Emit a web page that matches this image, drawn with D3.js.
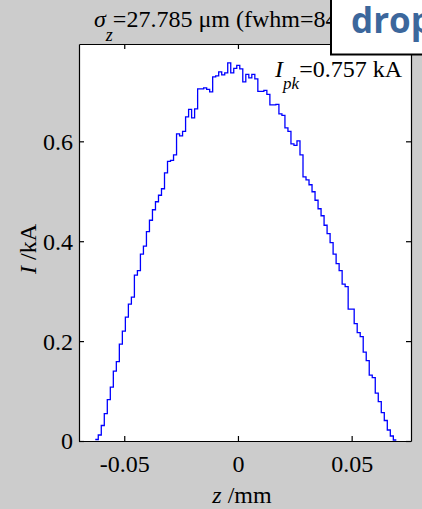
<!DOCTYPE html>
<html>
<head>
<meta charset="utf-8">
<script src="https://cdn.jsdelivr.net/npm/d3@7"></script>
<style>
  html, body { margin: 0; padding: 0; background: #cccccc; }
  svg { display: block; }
  text { font-family: "Liberation Serif", "Times New Roman", serif; fill: #000; }
</style>
</head>
<body>
<svg id="chart" width="422" height="509"></svg>
<script>
// Longitudinal current profile I(z), histogram of 100 equal bins
const zFirstEdge = -0.06275;   // mm, left edge of first bin
const zBinWidth = 0.001324;    // mm
const currentKA = [
  0.003, 0.012, 0.031, 0.055, 0.083, 0.108, 0.140, 0.159, 0.194, 0.220,
  0.248, 0.274, 0.288, 0.332, 0.341, 0.374, 0.390, 0.419, 0.442, 0.463,
  0.479, 0.492, 0.505, 0.537, 0.560, 0.562, 0.573, 0.615, 0.611, 0.620,
  0.649, 0.664, 0.647, 0.665, 0.705, 0.705, 0.707, 0.704, 0.699, 0.729,
  0.731, 0.739, 0.733, 0.737, 0.757, 0.737, 0.746, 0.752, 0.745, 0.719,
  0.734, 0.727, 0.734, 0.725, 0.700, 0.700, 0.702, 0.694, 0.673, 0.673,
  0.674, 0.655, 0.652, 0.627, 0.620, 0.595, 0.592, 0.601, 0.573, 0.529,
  0.523, 0.513, 0.499, 0.482, 0.465, 0.451, 0.432, 0.415, 0.397, 0.374,
  0.355, 0.341, 0.314, 0.309, 0.264, 0.264, 0.235, 0.217, 0.209, 0.178,
  0.161, 0.132, 0.127, 0.096, 0.079, 0.057, 0.041, 0.022, 0.010, 0.002
];
const sigmaZ = 27.785;  // um, rms bunch length

const xTickValues = [-0.05, 0, 0.05];
const xTickLabels = ["-0.05", "0", "0.05"];
const yTickValues = [0, 0.2, 0.4, 0.6];
const yTickLabels = ["0", "0.2", "0.4", "0.6"];
const xLimits = [-0.0699, 0.0761];

const peak = d3.max(currentKA);
const yLimits = [0, 1.05 * peak];

// layout
const plot = { left: 79, right: 411, top: 44, bottom: 441 };
const fontSize = 24;
const svg = d3.select("#chart");

const x = d3.scaleLinear().domain(xLimits).range([plot.left, plot.right]);
const y = d3.scaleLinear().domain(yLimits).range([plot.bottom, plot.top]);

// axes background
svg.append("rect")
  .attr("x", plot.left).attr("y", plot.top)
  .attr("width", plot.right - plot.left).attr("height", plot.bottom - plot.top)
  .attr("fill", "#fff");

// stairs line
const steps = currentKA.map((v, i) => [zFirstEdge + i * zBinWidth, v]);
steps.push([zFirstEdge + currentKA.length * zBinWidth, currentKA[currentKA.length - 1]]);
svg.append("path")
  .datum(steps)
  .attr("fill", "none")
  .attr("stroke", "#0000ff")
  .attr("stroke-width", 1.3)
  .attr("d", d3.line().x(d => x(d[0])).y(d => y(d[1])).curve(d3.curveStepAfter));

// axes (box with inward ticks)
function styleAxis(g) {
  g.selectAll("path.domain").attr("stroke", "#000").attr("stroke-width", 1.2);
  g.selectAll(".tick line").attr("stroke", "#000").attr("stroke-width", 1.2);
  g.attr("font-family", null).attr("font-size", null);
}

const gx = svg.append("g")
  .attr("transform", `translate(0,${plot.bottom})`)
  .call(d3.axisBottom(x).tickValues(xTickValues)
    .tickFormat((d, i) => xTickLabels[i]).tickSizeInner(-5).tickSizeOuter(0));
styleAxis(gx);
gx.selectAll(".tick text")
  .attr("y", 30.5).attr("dy", null)
  .style("font-size", fontSize + "px");

const gy = svg.append("g")
  .attr("transform", `translate(${plot.left},0)`)
  .call(d3.axisLeft(y).tickValues(yTickValues)
    .tickFormat((d, i) => yTickLabels[i]).tickSizeInner(-5).tickSizeOuter(0));
styleAxis(gy);
gy.selectAll(".tick text")
  .attr("x", -6).attr("dy", "0.33em")
  .style("font-size", fontSize + "px");

const gt = svg.append("g")
  .attr("transform", `translate(0,${plot.top})`)
  .call(d3.axisTop(x).tickValues(xTickValues).tickFormat("").tickSizeInner(-5).tickSizeOuter(0));
styleAxis(gt);

const gr = svg.append("g")
  .attr("transform", `translate(${plot.right},0)`)
  .call(d3.axisRight(y).tickValues(yTickValues).tickFormat("").tickSizeInner(-5).tickSizeOuter(0));
styleAxis(gr);

// axis labels
const xl = svg.append("text")
  .attr("x", 242).attr("y", 503)
  .attr("text-anchor", "middle")
  .style("font-size", fontSize + "px");
xl.append("tspan").style("font-style", "italic").text("z");
xl.append("tspan").text(" /mm");

const yl = svg.append("text")
  .attr("transform", "translate(36,249) rotate(-90)")
  .attr("text-anchor", "middle")
  .style("font-size", fontSize + "px");
yl.append("tspan").style("font-style", "italic").text("I");
yl.append("tspan").text(" /kA");

// full width at half maximum of the profile
function fwhm(vals) {
  const half = d3.max(vals) / 2;
  const centers = vals.map((v, i) => zFirstEdge + (i + 0.5) * zBinWidth);
  const i0 = vals.findIndex(v => v >= half);
  const i1 = vals.length - 1 - [...vals].reverse().findIndex(v => v >= half);
  const zl = centers[i0 - 1] + (half - vals[i0 - 1]) / (vals[i0] - vals[i0 - 1]) * zBinWidth;
  const zr = centers[i1] + (vals[i1] - half) / (vals[i1] - vals[i1 + 1]) * zBinWidth;
  return (zr - zl) * 1000;
}

// title
const title = svg.append("text")
  .attr("x", 94).attr("y", 27)
  .style("font-size", fontSize + "px");
title.append("tspan").style("font-style", "italic").text("σ");
title.append("tspan").attr("dy", 14).style("font-size", "18px").style("font-style", "italic").text("z");
title.append("tspan").attr("dy", -14)
  .text(`=${sigmaZ.toFixed(3)} μm (fwhm=${fwhm(currentKA).toFixed(3)} μm)`);

// peak current annotation
const pk = svg.append("text")
  .attr("x", 402).attr("y", 77)
  .attr("text-anchor", "end")
  .style("font-size", fontSize + "px");
pk.append("tspan").style("font-style", "italic").text("I");
pk.append("tspan").attr("dy", 12).style("font-size", "17px").style("font-style", "italic").text("pk");
pk.append("tspan").attr("dy", -12).text(`=${peak.toFixed(3)} kA`);

// overlay label box
svg.append("rect")
  .attr("x", 331).attr("y", -5)
  .attr("width", 100).attr("height", 59.5)
  .attr("fill", "#fff").attr("stroke", "#000").attr("stroke-width", 2);
svg.append("text")
  .attr("x", 351).attr("y", 33)
  .style("font-family", "'Open Sans', 'Noto Sans', sans-serif")
  .style("font-weight", "bold")
  .style("font-size", "35px")
  .style("fill", "#3c679c")
  .text("drop");
</script>
</body>
</html>
